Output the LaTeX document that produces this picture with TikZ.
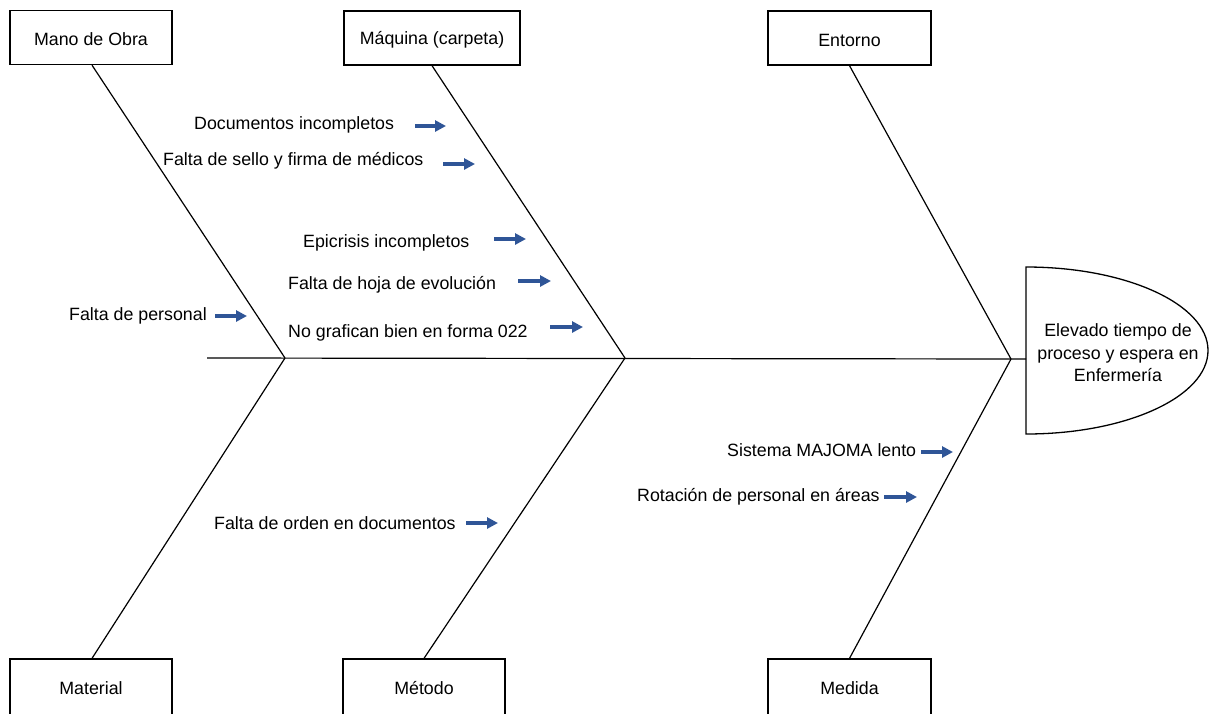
\documentclass[tikz,border=0pt]{standalone}
\usepackage{fontspec}
\setmainfont{Liberation Sans}
\usetikzlibrary{arrows.meta}
\definecolor{arrowblue}{RGB}{47,85,151}
\newcommand{\lowertext}[1]{\raisebox{-2pt}[\height][\depth]{#1}}
\begin{document}
\begin{tikzpicture}[x=1pt,y=-1pt,
  every node/.style={font=\fontsize{17.8}{22.5}\selectfont},
  catbox/.style={draw,line width=1.3pt,rectangle,inner sep=0pt,fill=white},
  bone/.style={line width=1.2pt},
  cause/.style={anchor=west,inner sep=0pt},
  causearrow/.style={draw=arrowblue,line width=3.6pt,-{Triangle[length=11pt,width=11pt]}}]
\useasboundingbox (0,0) rectangle (1217,713);
\clip (0,0) rectangle (1217,713);

% spine and junction points
\coordinate (spineL) at (207,358);
\coordinate (j1) at (285,358);
\coordinate (j2) at (625,358);
\coordinate (j3) at (1011,359);
\coordinate (headL) at (1026,359);

% category boxes
\node[catbox,minimum width=162pt,minimum height=54pt] (mano) at (91,37.5) {\lowertext{Mano de Obra}};
\node[catbox,minimum width=176pt,minimum height=54pt] (maquina) at (432,38) {\lowertext{Máquina (carpeta)}};
\node[catbox,minimum width=163pt,minimum height=54pt] (entorno) at (849.5,38) {\lowertext{Entorno}};
\node[catbox,minimum width=162pt,minimum height=58pt] (material) at (91,688) {Material};
\node[catbox,minimum width=162pt,minimum height=58pt] (metodo) at (424,688) {Método};
\node[catbox,minimum width=163pt,minimum height=58pt] (medida) at (849.5,688) {Medida};

% effect head
\draw[line width=1.3pt] (1026,434) -- (1026,267)
  arc[start angle=-90,end angle=90,x radius=182,y radius=83.5] -- cycle;
\node[align=center,inner sep=0pt] (effect) at (1118,353)
  {Elevado tiempo de\\proceso y espera en\\Enfermería};

% spine and bones
\draw[bone] (spineL) -- (headL);
\draw[bone] ([xshift=1pt]mano.south) -- (j1);
\draw[bone] (maquina.south) -- (j2);
\draw[bone] (entorno.south) -- (j3);
\draw[bone] ([xshift=1pt]material.north) -- (j1);
\draw[bone] (metodo.north) -- (j2);
\draw[bone] (medida.north) -- (j3);

% causes
\node[cause] (c1) at (194,124.5) {Documentos incompletos};
\node[cause] (c2) at (163,160.5) {Falta de sello y firma de médicos};
\node[cause] (c3) at (303,242.5) {Epicrisis incompletos};
\node[cause] (c4) at (288,284.5) {Falta de hoja de evolución};
\node[cause] (c5) at (288,332.5) {No grafican bien en forma 022};
\node[cause] (c6) at (69,315.5) {Falta de personal};
\node[cause] (c7) at (214,523.5) {Falta de orden en documentos};
\node[cause] (c8) at (727,450.5) {Sistema MAJOMA lento};
\node[cause] (c9) at (637,496.5) {Rotación de personal en áreas};

% cause arrows
\coordinate (a1s) at (415,126); \coordinate (a1e) at (446,126);
\coordinate (a2s) at (443,164); \coordinate (a2e) at (475,164);
\coordinate (a3s) at (494,239); \coordinate (a3e) at (526,239);
\coordinate (a4s) at (518,281); \coordinate (a4e) at (551,281);
\coordinate (a5s) at (550,327); \coordinate (a5e) at (583,327);
\coordinate (a6s) at (215,316); \coordinate (a6e) at (247,316);
\coordinate (a7s) at (466,523); \coordinate (a7e) at (498,523);
\coordinate (a8s) at (921,452); \coordinate (a8e) at (953,452);
\coordinate (a9s) at (884,497); \coordinate (a9e) at (917,497);
\foreach \i in {1,...,9} {\draw[causearrow] (a\i s) -- (a\i e);}
\end{tikzpicture}
\end{document}
